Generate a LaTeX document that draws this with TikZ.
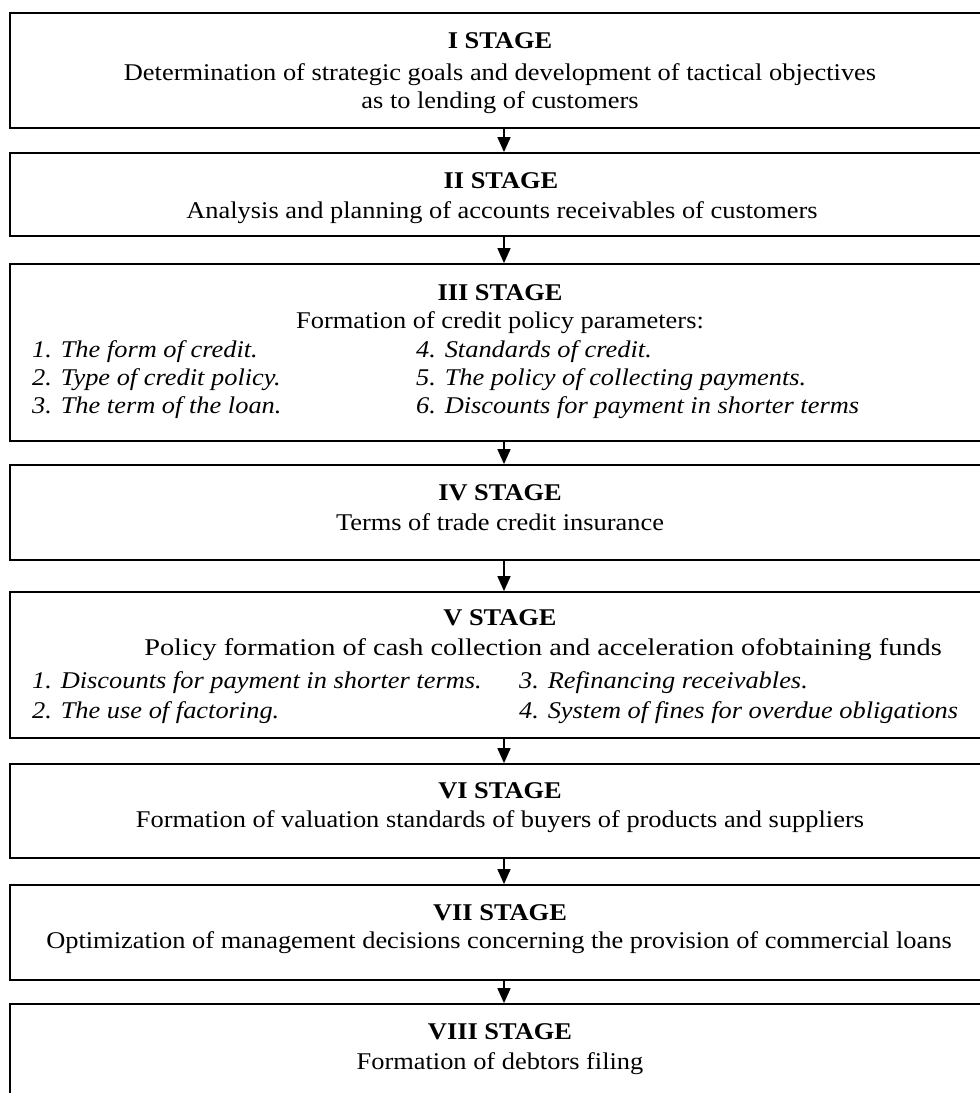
\documentclass[tikz,border=0pt]{standalone}
\usepackage{fontspec}
\setmainfont{Liberation Serif}
\usetikzlibrary{arrows.meta}
\newcommand{\widen}[1]{\scalebox{1.1}[1]{#1}}
\tikzset{
  stagebox/.style={draw=black, line width=1.8pt, rectangle, inner sep=0pt, minimum width=982pt},
  ttl/.style={anchor=base, inner sep=0pt, font=\fontsize{24}{29}\selectfont\bfseries},
  txt/.style={anchor=base, inner sep=0pt, font=\fontsize{24}{29}\selectfont},
  itm/.style={anchor=base west, inner sep=0pt, font=\fontsize{24}{29}\selectfont\itshape},
  arr/.style={line width=1.6pt, -{Triangle[length=15pt,width=13pt]}}
}
\begin{document}
\begin{tikzpicture}[x=1pt,y=-1pt]
\useasboundingbox (0,0) rectangle (980,1093);
\fill[white] (0,0) rectangle (980,1093);
% boxes
\node[stagebox, minimum height=115pt] (s1) at (501,70.5) {};
\node[stagebox, minimum height=83pt]  (s2) at (501,194.5) {};
\node[stagebox, minimum height=177pt] (s3) at (501,352.5) {};
\node[stagebox, minimum height=95pt]  (s4) at (501,512.5) {};
\node[stagebox, minimum height=146pt] (s5) at (501,665) {};
\node[stagebox, minimum height=94pt]  (s6) at (501,811) {};
\node[stagebox, minimum height=95pt]  (s7) at (501,932.5) {};
\node[stagebox, minimum height=106pt] (s8) at (501,1057) {};
% arrows
\foreach \a/\b in {s1/s2,s2/s3,s3/s4,s4/s5,s5/s6,s6/s7,s7/s8}
  \draw[arr] ([xshift=3pt]\a.south) -- ([xshift=3pt]\b.north);
% texts
\node[ttl] (t1) at (500,48) {\widen{I STAGE}};
\node[txt] (t1a) at (500,80) {\widen{Determination of strategic goals and development of tactical objectives}};
\node[txt] (t1b) at (500,108) {\widen{as to lending of customers}};
\node[ttl] (t2) at (501,188) {\widen{II STAGE}};
\node[txt] (t2a) at (502,218) {\widen{Analysis and planning of accounts receivables of customers}};
\node[ttl] (t3) at (500,300) {\widen{III STAGE}};
\node[txt] (t3a) at (500,328) {\widen{Formation of credit policy parameters:}};
\node[itm] (i31) at (32,357) {\widen{1. The form of credit.}};
\node[itm] (i32) at (32,385) {\widen{2. Type of credit policy.}};
\node[itm] (i33) at (32,413) {\widen{3. The term of the loan.}};
\node[itm] (i34) at (416,357) {\widen{4. Standards of credit.}};
\node[itm] (i35) at (416,385) {\widen{5. The policy of collecting payments.}};
\node[itm] (i36) at (416,413) {\widen{6. Discounts for payment in shorter terms}};
\node[ttl] (t4) at (500,500) {\widen{IV STAGE}};
\node[txt] (t4a) at (500,530) {\widen{Terms of trade credit insurance}};
\node[ttl] (t5) at (500,625) {\widen{V STAGE}};
\node[txt] (t5a) at (543,655) {\scalebox{1.18}[1]{Policy formation of cash collection and acceleration ofobtaining funds}};
\node[itm] (i51) at (32,688) {\widen{1. Discounts for payment in shorter terms.}};
\node[itm] (i52) at (32,718) {\widen{2. The use of factoring.}};
\node[itm] (i53) at (519,688) {\widen{3. Refinancing receivables.}};
\node[itm] (i54) at (519,718) {\widen{4. System of fines for overdue obligations}};
\node[ttl] (t6) at (500,798) {\widen{VI STAGE}};
\node[txt] (t6a) at (500,827) {\widen{Formation of valuation standards of buyers of products and suppliers}};
\node[ttl] (t7) at (500,920) {\widen{VII STAGE}};
\node[txt] (t7a) at (499,948) {\widen{Optimization of management decisions concerning the provision of commercial loans}};
\node[ttl] (t8) at (500,1039) {\widen{VIII STAGE}};
\node[txt] (t8a) at (500,1069) {\widen{Formation of debtors filing}};
\end{tikzpicture}
\end{document}
